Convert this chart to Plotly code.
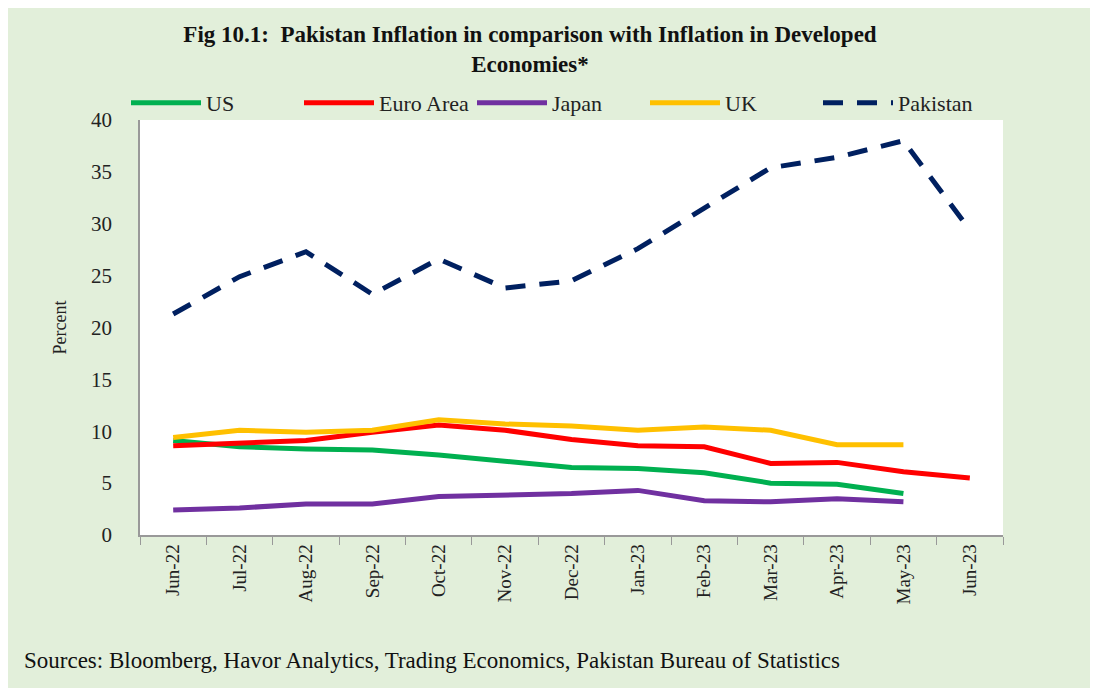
import plotly.graph_objects as go

months = ["Jun-22", "Jul-22", "Aug-22", "Sep-22", "Oct-22", "Nov-22", "Dec-22",
          "Jan-23", "Feb-23", "Mar-23", "Apr-23", "May-23", "Jun-23"]

us = [9.1, 8.5, 8.3, 8.2, 7.7, 7.1, 6.5, 6.4, 6.0, 5.0, 4.9, 4.0]
euro_area = [8.6, 8.9, 9.1, 9.9, 10.6, 10.1, 9.2, 8.6, 8.5, 6.9, 7.0, 6.1, 5.5]
japan = [2.4, 2.6, 3.0, 3.0, 3.7, 3.8, 4.0, 4.3, 3.3, 3.2, 3.5, 3.2]
uk = [9.4, 10.1, 9.9, 10.1, 11.1, 10.7, 10.5, 10.1, 10.4, 10.1, 8.7, 8.7]
pakistan = [21.3, 24.9, 27.3, 23.2, 26.6, 23.8, 24.5, 27.6, 31.5, 35.4, 36.4, 38.0, 29.4]

FONT = "Liberation Serif, DejaVu Serif, serif"
BG = "#E2EFDA"

series = [
    ("US", us, "#00B050", "solid"),
    ("Euro Area", euro_area, "#FF0000", "solid"),
    ("Japan", japan, "#7030A0", "solid"),
    ("UK", uk, "#FFC000", "solid"),
    ("Pakistan", pakistan, "#002060", "20px,14px"),
]

fig = go.Figure()
for name, vals, color, dash in series:
    fig.add_trace(go.Scatter(
        x=months[:len(vals)], y=vals, mode="lines",
        name=f"<span style='font-family:Liberation Serif'>{name}</span>",
        line=dict(color=color, width=5, dash=dash),
    ))

# the page body adds an 8px offset, so margins are 8px smaller than screen positions
fig.update_layout(
    width=1098, height=688,
    paper_bgcolor=BG, plot_bgcolor="white",
    font=dict(family=FONT, color="#222", size=19),
    title=dict(
        text="<b>Fig 10.1:  Pakistan Inflation in comparison with Inflation in Developed<br>Economies*</b>",
        xref="container", yref="container",
        x=522 / 1098, xanchor="center", y=1 - 34 / 688, yanchor="top",
        font=dict(size=23, family=FONT, color="#111"),
    ),
    margin=dict(l=132, r=103, t=112, b=161, autoexpand=False),
    legend=dict(
        orientation="h", xref="container", yref="container",
        x=118 / 1098, xanchor="left", y=1 - 95 / 688, yanchor="middle",
        bgcolor="rgba(0,0,0,0)", font=dict(size=22, family="Liberation Serif", color="#222"),
        itemwidth=70, tracegroupgap=0, entrywidth=88,
    ),
    showlegend=True,
)

fig.update_xaxes(
    type="category", tickangle=-90, tickson="boundaries",
    ticks="outside", ticklen=8, tickcolor="#999",
    showline=True, linecolor="#999", linewidth=1.5, showgrid=False,
    tickfont=dict(size=19, family=FONT),
    range=[-0.5, 12.5],
)
fig.update_yaxes(
    range=[0, 40], dtick=5, showgrid=False,
    showline=True, linecolor="#999", linewidth=1.5, ticks="",
    ticklabelstandoff=22,
    title=dict(text="Percent", font=dict(size=18, family=FONT), standoff=20),
    tickfont=dict(size=21, family=FONT),
)

fig.add_annotation(
    text="Sources: Bloomberg, Havor Analytics, Trading Economics, Pakistan Bureau of Statistics",
    xref="paper", yref="paper", x=-118 / 863, y=-125 / 415, xanchor="left", yanchor="middle",
    showarrow=False, font=dict(size=23, family=FONT, color="#111"),
)

fig.write_html("out.html")
